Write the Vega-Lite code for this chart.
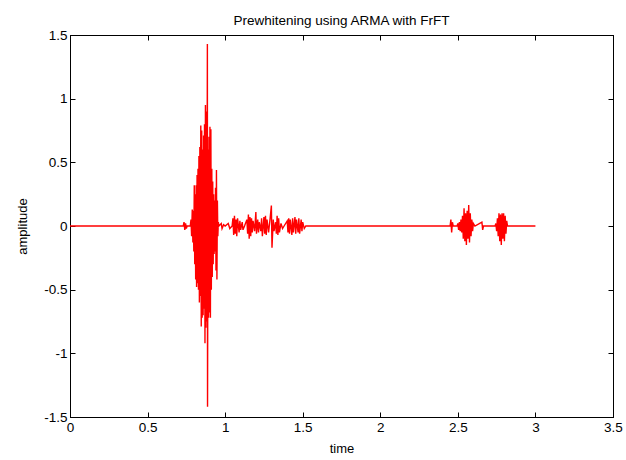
{
  "$schema": "https://vega.github.io/schema/vega-lite/v6.json",
  "width": 543,
  "height": 382,
  "autosize": {"type": "none"},
  "padding": {"left": 70, "top": 35, "right": 13, "bottom": 43},
  "background": "white",
  "title": {"text": "Prewhitening using ARMA with FrFT", "font": "Liberation Sans", "fontSize": 13.5, "fontWeight": "normal", "color": "black", "offset": 1, "anchor": "middle"},
  "config": {
    "view": {"stroke": "black", "strokeWidth": 1},
    "axis": {"domainColor": "black", "tickColor": "black", "labelColor": "black", "titleColor": "black", "labelFont": "Liberation Sans", "titleFont": "Liberation Sans", "labelFontSize": 13.5, "titleFontSize": 13, "titleFontWeight": "normal", "grid": false, "tickSize": -5, "labelPadding": 8}
  },
  "data": {"values": [
    {"t": 0, "a": 0}, {"t": 0.73, "a": 0}, {"t": 0.735, "a": 0.03}, {"t": 0.74, "a": -0.03}, {"t": 0.745, "a": 0.02}, {"t": 0.75, "a": -0.02}, {"t": 0.755, "a": 0}, {"t": 0.775, "a": 0},
    {"t": 0.78, "a": 0.05}, {"t": 0.784, "a": -0.08}, {"t": 0.788, "a": 0.13}, {"t": 0.792, "a": -0.13}, {"t": 0.795, "a": 0.12}, {"t": 0.798, "a": -0.2}, {"t": 0.801, "a": 0.32}, {"t": 0.804, "a": -0.3},
    {"t": 0.807, "a": 0.25}, {"t": 0.81, "a": -0.42}, {"t": 0.813, "a": 0.32}, {"t": 0.816, "a": -0.48}, {"t": 0.819, "a": 0.4}, {"t": 0.822, "a": -0.45}, {"t": 0.825, "a": 0.45}, {"t": 0.828, "a": -0.5},
    {"t": 0.831, "a": 0.55}, {"t": 0.834, "a": -0.6}, {"t": 0.837, "a": 0.62}, {"t": 0.84, "a": -0.55}, {"t": 0.843, "a": 0.79}, {"t": 0.846, "a": -0.79}, {"t": 0.849, "a": 0.75}, {"t": 0.852, "a": -0.72},
    {"t": 0.855, "a": 0.6}, {"t": 0.858, "a": -0.7}, {"t": 0.861, "a": 0.71}, {"t": 0.864, "a": -0.65}, {"t": 0.867, "a": 0.8}, {"t": 0.87, "a": -0.92}, {"t": 0.873, "a": 0.95}, {"t": 0.876, "a": -0.8},
    {"t": 0.879, "a": 0.9}, {"t": 0.882, "a": -0.75}, {"t": 0.8855, "a": 1.43}, {"t": 0.8865, "a": -1.42}, {"t": 0.89, "a": 0.6}, {"t": 0.893, "a": -0.72}, {"t": 0.896, "a": 0.7}, {"t": 0.899, "a": -0.68},
    {"t": 0.902, "a": 0.78}, {"t": 0.905, "a": -0.72}, {"t": 0.908, "a": 0.76}, {"t": 0.911, "a": -0.5}, {"t": 0.914, "a": 0.45}, {"t": 0.917, "a": -0.4}, {"t": 0.92, "a": 0.35}, {"t": 0.923, "a": -0.3},
    {"t": 0.926, "a": 0.25}, {"t": 0.929, "a": -0.22}, {"t": 0.932, "a": 0.2}, {"t": 0.935, "a": -0.2}, {"t": 0.938, "a": 0.3}, {"t": 0.941, "a": -0.35}, {"t": 0.944, "a": 0.44}, {"t": 0.947, "a": -0.42},
    {"t": 0.95, "a": 0.2}, {"t": 0.953, "a": -0.08}, {"t": 0.956, "a": 0.03}, {"t": 0.96, "a": 0},
    {"t": 0.975, "a": 0.02}, {"t": 0.98, "a": -0.02}, {"t": 0.99, "a": 0.01}, {"t": 1.0, "a": 0}, {"t": 1.02, "a": 0.02}, {"t": 1.03, "a": -0.02}, {"t": 1.045, "a": 0},
    {"t": 1.05, "a": 0.06}, {"t": 1.055, "a": -0.07}, {"t": 1.06, "a": 0.08}, {"t": 1.065, "a": -0.06}, {"t": 1.07, "a": 0.05}, {"t": 1.075, "a": -0.08}, {"t": 1.08, "a": 0.06}, {"t": 1.09, "a": -0.05},
    {"t": 1.095, "a": 0.04}, {"t": 1.1, "a": -0.03}, {"t": 1.105, "a": 0}, {"t": 1.11, "a": 0.03}, {"t": 1.115, "a": -0.03}, {"t": 1.125, "a": 0},
    {"t": 1.14, "a": 0.05}, {"t": 1.145, "a": -0.06}, {"t": 1.15, "a": 0.09}, {"t": 1.155, "a": -0.1}, {"t": 1.16, "a": 0.07}, {"t": 1.165, "a": -0.08}, {"t": 1.17, "a": 0.06}, {"t": 1.175, "a": -0.05},
    {"t": 1.18, "a": 0.04}, {"t": 1.19, "a": -0.04}, {"t": 1.198, "a": 0.11}, {"t": 1.202, "a": -0.06}, {"t": 1.21, "a": 0.05}, {"t": 1.215, "a": -0.05}, {"t": 1.22, "a": 0.03}, {"t": 1.23, "a": -0.04},
    {"t": 1.235, "a": 0.06}, {"t": 1.24, "a": -0.08}, {"t": 1.25, "a": 0.07}, {"t": 1.255, "a": -0.06}, {"t": 1.26, "a": 0.08}, {"t": 1.265, "a": -0.07}, {"t": 1.27, "a": 0.05}, {"t": 1.28, "a": -0.05},
    {"t": 1.29, "a": 0.06}, {"t": 1.298, "a": 0.16}, {"t": 1.302, "a": -0.17}, {"t": 1.31, "a": 0.05}, {"t": 1.315, "a": -0.04}, {"t": 1.325, "a": 0.03}, {"t": 1.33, "a": -0.06}, {"t": 1.335, "a": 0.08},
    {"t": 1.34, "a": -0.07}, {"t": 1.345, "a": 0.06}, {"t": 1.35, "a": -0.05}, {"t": 1.36, "a": 0.02}, {"t": 1.37, "a": -0.02}, {"t": 1.38, "a": 0},
    {"t": 1.4, "a": 0.04}, {"t": 1.405, "a": -0.05}, {"t": 1.41, "a": 0.06}, {"t": 1.415, "a": -0.06}, {"t": 1.42, "a": 0.05}, {"t": 1.43, "a": -0.07}, {"t": 1.435, "a": 0.06}, {"t": 1.44, "a": -0.05},
    {"t": 1.45, "a": 0.07}, {"t": 1.455, "a": -0.06}, {"t": 1.46, "a": 0.05}, {"t": 1.47, "a": -0.05}, {"t": 1.475, "a": 0.06}, {"t": 1.48, "a": -0.06}, {"t": 1.49, "a": 0.05}, {"t": 1.495, "a": -0.04},
    {"t": 1.5, "a": 0.03}, {"t": 1.51, "a": -0.02}, {"t": 1.52, "a": 0},
    {"t": 2.45, "a": 0}, {"t": 2.455, "a": 0.05}, {"t": 2.46, "a": -0.05}, {"t": 2.465, "a": 0.03}, {"t": 2.47, "a": 0},
    {"t": 2.495, "a": 0}, {"t": 2.5, "a": 0.02}, {"t": 2.505, "a": -0.03}, {"t": 2.51, "a": 0.03}, {"t": 2.515, "a": -0.04}, {"t": 2.52, "a": 0.05}, {"t": 2.525, "a": -0.05}, {"t": 2.53, "a": 0.08},
    {"t": 2.535, "a": -0.1}, {"t": 2.54, "a": 0.14}, {"t": 2.545, "a": -0.12}, {"t": 2.55, "a": 0.1}, {"t": 2.555, "a": -0.15}, {"t": 2.56, "a": 0.12}, {"t": 2.565, "a": -0.1}, {"t": 2.57, "a": 0.165},
    {"t": 2.575, "a": -0.13}, {"t": 2.58, "a": 0.1}, {"t": 2.585, "a": -0.08}, {"t": 2.59, "a": 0.05}, {"t": 2.595, "a": -0.04}, {"t": 2.6, "a": 0.02}, {"t": 2.61, "a": 0},
    {"t": 2.655, "a": 0.03}, {"t": 2.66, "a": -0.03}, {"t": 2.665, "a": 0},
    {"t": 2.74, "a": 0}, {"t": 2.745, "a": 0.02}, {"t": 2.75, "a": -0.04}, {"t": 2.755, "a": 0.06}, {"t": 2.76, "a": -0.08}, {"t": 2.765, "a": 0.1}, {"t": 2.77, "a": -0.12}, {"t": 2.775, "a": 0.09},
    {"t": 2.78, "a": -0.15}, {"t": 2.785, "a": 0.1}, {"t": 2.79, "a": -0.1}, {"t": 2.795, "a": 0.1}, {"t": 2.8, "a": -0.12}, {"t": 2.805, "a": 0.08}, {"t": 2.81, "a": -0.06}, {"t": 2.815, "a": 0.04},
    {"t": 2.82, "a": 0}, {"t": 3.0, "a": 0}
  ]},
  "layer": [
    {
      "mark": {"type": "line", "color": "#ff0000", "strokeWidth": 1.4, "clip": true},
      "encoding": {
        "x": {"field": "t", "type": "quantitative", "scale": {"domain": [0, 3.5], "nice": false, "zero": false},
          "axis": {"orient": "bottom", "values": [0, 0.5, 1, 1.5, 2, 2.5, 3, 3.5], "labelExpr": "'' + datum.value", "title": "time", "titlePadding": 9, "labelFlush": false}},
        "y": {"field": "a", "type": "quantitative", "scale": {"domain": [-1.5, 1.5], "nice": false, "zero": false},
          "axis": {"orient": "left", "values": [-1.5, -1, -0.5, 0, 0.5, 1, 1.5], "labelExpr": "'' + datum.value", "title": "amplitude", "titlePadding": 14, "labelFlush": false}}
      }
    },
    {
      "mark": {"type": "point", "opacity": 0},
      "encoding": {
        "x": {"field": "t", "type": "quantitative", "scale": {"domain": [0, 3.5], "nice": false, "zero": false},
          "axis": {"orient": "top", "values": [0, 0.5, 1, 1.5, 2, 2.5, 3, 3.5], "labels": false, "title": null}},
        "y": {"field": "a", "type": "quantitative", "scale": {"domain": [-1.5, 1.5], "nice": false, "zero": false},
          "axis": {"orient": "right", "values": [-1.5, -1, -0.5, 0, 0.5, 1, 1.5], "labels": false, "title": null}}
      }
    }
  ],
  "resolve": {"axis": {"x": "independent", "y": "independent"}}
}
